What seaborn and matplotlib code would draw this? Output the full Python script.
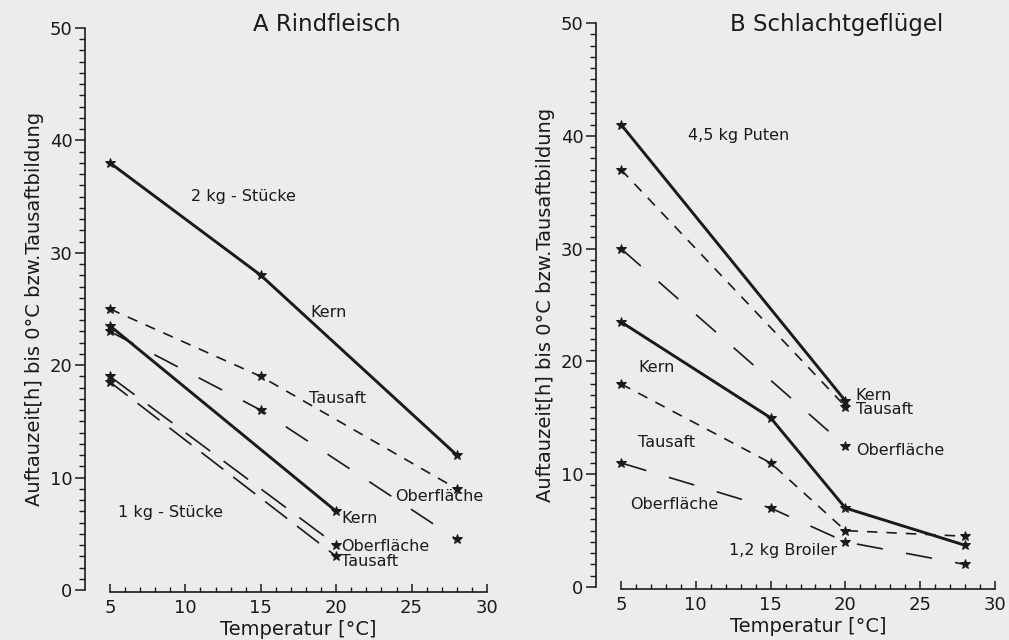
import numpy as np
import pandas as pd
import matplotlib
matplotlib.use("Agg")
import matplotlib.pyplot as plt
import seaborn as sns
from matplotlib.ticker import MultipleLocator

# ---------------- data ----------------
# A Rindfleisch, 2 kg pieces
temps_a_2kg = [5, 15, 28]
a_2kg_kern = [38, 28, 12]
a_2kg_tausaft = [25, 19, 9]
a_2kg_oberflaeche = [23, 16, 4.5]
# A Rindfleisch, 1 kg pieces
temps_a_1kg = [5, 20]
a_1kg_kern = [23.5, 7]
a_1kg_oberflaeche = [19, 4]
a_1kg_tausaft = [18.5, 3]
# B Schlachtgefluegel, 4,5 kg Puten
temps_b_puten = [5, 20]
b_puten_kern = [41, 16.5]
b_puten_tausaft = [37, 16]
b_puten_oberflaeche = [30, 12.5]
# B Schlachtgefluegel, 1,2 kg Broiler
temps_b_broiler = [5, 15, 20, 28]
b_broiler_kern = [23.5, 15, 7, 3.7]
b_broiler_tausaft = [18, 11, 5, 4.5]
b_broiler_oberflaeche = [11, 7, 4, 2]

titles = ["A Rindfleisch", "B Schlachtgeflügel"]
xlabel = "Temperatur [°C]"
ylabel = "Auftauzeit[h] bis 0°C bzw.Tausaftbildung"
x_ticks = [5, 10, 15, 20, 25, 30]
y_ticks = [0, 10, 20, 30, 40, 50]

# ---------------- style ----------------
sns.set_theme(style="ticks")
bg = "#ececec"
ink = "#1a1a1a"
plt.rcParams["font.family"] = ["DejaVu Sans"]
plt.rcParams["lines.scale_dashes"] = False
plt.rcParams["axes.linewidth"] = 1.2

styles = {
    "Kern": dict(linestyle="-", linewidth=2.1),
    "Tausaft": dict(linestyle=(0, (7.5, 6.5)), linewidth=1.2),
    "Oberfläche": dict(linestyle=(0, (19, 17)), linewidth=1.2),
    "Tausaft1": dict(linestyle=(4, (20, 9)), linewidth=1.2),
    "Oberfläche1": dict(linestyle=(0, (22, 12)), linewidth=1.2),
}

fig = plt.figure(figsize=(10.09, 6.40), dpi=100, facecolor=bg)
ax_a = fig.add_axes([110 / 1009, 50 / 640, 377 / 1009, 562 / 640])
ax_b = fig.add_axes([621 / 1009, 53 / 640, 374 / 1009, 564 / 640])


def draw(ax, temps, vals, key):
    df = pd.DataFrame({"T": temps, "h": vals})
    sns.lineplot(data=df, x="T", y="h", ax=ax, color=ink,
                 marker="*", markersize=7, markeredgewidth=0.7,
                 markeredgecolor=ink, estimator=None, sort=False,
                 clip_on=False, **styles[key])


# Panel A
draw(ax_a, temps_a_2kg, a_2kg_kern, "Kern")
draw(ax_a, temps_a_2kg, a_2kg_tausaft, "Tausaft")
draw(ax_a, temps_a_2kg, a_2kg_oberflaeche, "Oberfläche")
draw(ax_a, temps_a_1kg, a_1kg_kern, "Kern")
draw(ax_a, temps_a_1kg, a_1kg_oberflaeche, "Oberfläche1")
draw(ax_a, temps_a_1kg, a_1kg_tausaft, "Tausaft1")

# Panel B
draw(ax_b, temps_b_puten, b_puten_kern, "Kern")
draw(ax_b, temps_b_puten, b_puten_tausaft, "Tausaft")
draw(ax_b, temps_b_puten, b_puten_oberflaeche, "Oberfläche")
draw(ax_b, temps_b_broiler, b_broiler_kern, "Kern")
draw(ax_b, temps_b_broiler, b_broiler_tausaft, "Tausaft")
draw(ax_b, temps_b_broiler, b_broiler_oberflaeche, "Oberfläche")

lab_fs = 11.5
txt = dict(color=ink, fontsize=lab_fs, va="center", ha="left")
# annotations panel A
ax_a.text(10.4, 35.0, "2 kg - Stücke", **txt)
ax_a.text(18.3, 24.7, "Kern", **txt)
ax_a.text(18.2, 17.0, "Tausaft", **txt)
ax_a.text(23.9, 8.3, "Oberfläche", **txt)
ax_a.text(5.5, 6.9, "1 kg - Stücke", **txt)
ax_a.text(20.35, 6.4, "Kern", **txt)
ax_a.text(20.35, 3.9, "Oberfläche", **txt)
ax_a.text(20.35, 2.5, "Tausaft", **txt)
# annotations panel B
ax_b.text(9.5, 40.0, "4,5 kg Puten", **txt)
ax_b.text(20.7, 17.0, "Kern", **txt)
ax_b.text(20.7, 15.7, "Tausaft", **txt)
ax_b.text(20.7, 12.1, "Oberfläche", **txt)
ax_b.text(6.15, 19.5, "Kern", **txt)
ax_b.text(6.15, 12.8, "Tausaft", **txt)
ax_b.text(5.6, 7.3, "Oberfläche", **txt)
ax_b.text(12.2, 3.2, "1,2 kg Broiler", **txt)

for ax, title, ty in zip([ax_a, ax_b], titles, [50.3, 49.9]):
    ax.set_facecolor("none")
    ax.set_xlim(5, 30)
    ax.set_ylim(0, 50)
    ax.text(19.4, ty, title, fontsize=16.5, ha="center", va="center",
            color=ink, clip_on=False)
    ax.set_xticks(x_ticks)
    ax.set_yticks(y_ticks)
    ax.set_xticklabels([str(t) for t in x_ticks])
    ax.set_yticklabels([str(t) for t in y_ticks])
    ax.xaxis.set_minor_locator(MultipleLocator(1))
    ax.yaxis.set_minor_locator(MultipleLocator(1))
    sns.despine(ax=ax, top=True, right=True)
    ax.spines["left"].set_position(("outward", 18))
    ax.spines["bottom"].set_position(("outward", 1.5))
    for s in ("left", "bottom"):
        ax.spines[s].set_color(ink)
        ax.spines[s].set_linewidth(1.2)
    ax.tick_params(axis="y", which="major", direction="out", length=7,
                   width=1.1, colors=ink, labelsize=13, pad=2)
    ax.tick_params(axis="y", which="minor", direction="out", length=4.5,
                   width=1.0, colors=ink)
    ax.tick_params(axis="x", which="major", direction="in", length=6,
                   width=1.1, colors=ink, labelsize=13, pad=5)
    ax.tick_params(axis="x", which="minor", direction="in", length=3.5,
                   width=1.0, colors=ink)
    ax.set_xlabel(xlabel, fontsize=14, color=ink, labelpad=2)
    ax.set_ylabel(ylabel, fontsize=14, color=ink, labelpad=4)
    ax.grid(False)

fig.savefig("out.png", dpi=100, facecolor=bg)
